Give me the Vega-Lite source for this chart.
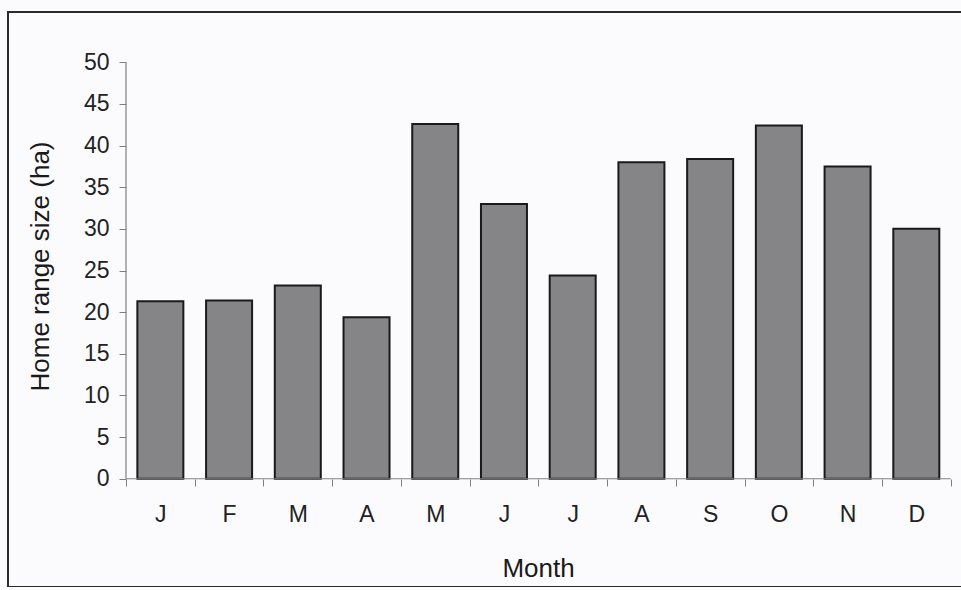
{
  "$schema": "https://vega.github.io/schema/vega-lite/v6.json",
  "autosize": "none",
  "padding": {"left": 8, "top": 12, "right": 0, "bottom": 0},
  "width": 956,
  "height": 575,
  "background": "#fbfbfd",
  "config": {
    "view": {"stroke": "#2a2a2a", "strokeWidth": 2, "fill": "#fbfbfd"},
    "font": "Liberation Sans",
    "axis": {"labelColor": "#222222", "titleColor": "#1a1a1a", "titleFontWeight": "normal", "grid": false, "domain": false}
  },
  "data": {
    "values": [
      {"month": "J", "m": 1, "ha": 21.3},
      {"month": "F", "m": 2, "ha": 21.4},
      {"month": "M", "m": 3, "ha": 23.2},
      {"month": "A", "m": 4, "ha": 19.4},
      {"month": "M", "m": 5, "ha": 42.6},
      {"month": "J", "m": 6, "ha": 33.0},
      {"month": "J", "m": 7, "ha": 24.4},
      {"month": "A", "m": 8, "ha": 38.0},
      {"month": "S", "m": 9, "ha": 38.4},
      {"month": "O", "m": 10, "ha": 42.4},
      {"month": "N", "m": 11, "ha": 37.5},
      {"month": "D", "m": 12, "ha": 30.0}
    ]
  },
  "layer": [
    {
      "mark": {"type": "bar", "orient": "vertical", "size": 46, "fill": "#858588", "stroke": "#1a1a1a", "strokeWidth": 2},
      "encoding": {
        "x": {
          "field": "m",
          "type": "quantitative",
          "scale": {"domain": [-1.217, 12.694], "nice": false, "zero": false, "padding": 0},
          "axis": {
            "orient": "bottom",
            "offset": -108,
            "values": [0.5, 1.5, 2.5, 3.5, 4.5, 5.5, 6.5, 7.5, 8.5, 9.5, 10.5, 11.5, 12.5],
            "labelExpr": "datum.value < 12 ? substring('JFMAMJJASOND', floor(datum.value), floor(datum.value) + 1) : ''",
            "labelOffset": 34.36,
            "labelOverlap": false,
            "labelBound": false,
            "labelFlush": false,
            "tickColor": "#808080",
            "tickSize": 7,
            "labelFontSize": 23,
            "labelPadding": 17,
            "labelBaseline": "top",
            "title": "Month",
            "titleFontSize": 26,
            "titleX": 530,
            "titleY": 97,
            "titleBaseline": "alphabetic"
          }
        },
        "y": {
          "field": "ha",
          "type": "quantitative",
          "scale": {"domain": [-13.0, 56.04], "nice": false, "zero": false, "padding": 0},
          "axis": {
            "orient": "left",
            "offset": -118,
            "values": [0, 5, 10, 15, 20, 25, 30, 35, 40, 45, 50],
            "labelOverlap": false,
            "tickColor": "#808080",
            "tickSize": 7,
            "labelFontSize": 23,
            "labelPadding": 10,
            "title": "Home range size (ha)",
            "titleFontSize": 26,
            "titleX": -78,
            "titleY": 254,
            "titleBaseline": "alphabetic",
            "titleAlign": "center"
          }
        },
        "y2": {"datum": 0}
      }
    },
    {
      "data": {"values": [{}]},
      "mark": {"type": "rule", "color": "#808080", "strokeWidth": 1.2},
      "encoding": {
        "x": {"datum": 0.5, "type": "quantitative"},
        "y": {"datum": 0, "type": "quantitative"},
        "y2": {"datum": 50}
      }
    },
    {
      "data": {"values": [{}]},
      "mark": {"type": "rule", "color": "#808080", "strokeWidth": 1.2},
      "encoding": {
        "x": {"datum": 0.5, "type": "quantitative"},
        "x2": {"datum": 12.5},
        "y": {"datum": 0, "type": "quantitative"}
      }
    }
  ]
}
